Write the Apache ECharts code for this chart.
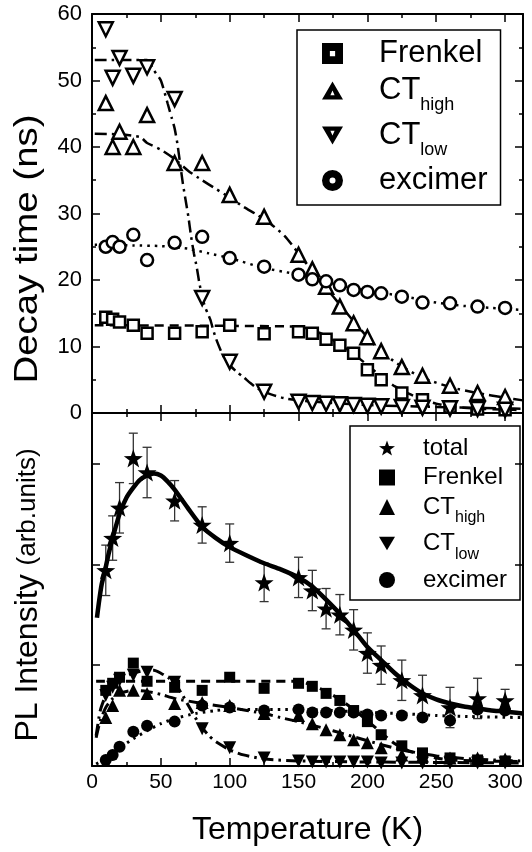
<!DOCTYPE html>
<html>
<head>
<meta charset="utf-8">
<script src="https://cdn.jsdelivr.net/npm/echarts@6/dist/echarts.min.js"></script>
<style>
html,body{margin:0;padding:0;background:#fff;}
#main{width:532px;height:852px;}
</style>
</head>
<body>
<div id="main"></div>
<script>
// temperatures of the measured points (K)
var tempK = [10,15,20,30,40,60,80,100,125,150,160,170,180,190,200,210,225,240,260,280,300];

// decay times (ns)
var tauFrenkel = [14.4,14.1,13.7,13.2,12.0,12.0,12.2,13.2,11.9,12.2,12.0,11.1,10.2,9.0,6.5,5.0,3.0,2.0,0.9,0.6,0.5];
var tauCThigh  = [46.6,40.0,42.3,40.0,44.8,37.6,37.6,32.8,29.5,23.8,21.6,19.0,16.0,13.5,11.4,9.3,6.9,5.6,4.1,3.0,2.4];
var tauCTlow   = [57.7,50.4,53.4,50.7,52.0,47.2,17.3,7.7,3.2,1.7,1.5,1.4,1.3,1.2,1.1,1.0,0.9,0.8,0.7,0.6,0.5];
var tauExcimer = [25.0,25.7,25.0,26.8,23.0,25.6,26.5,23.3,22.0,20.8,20.1,19.8,19.2,18.5,18.2,18.0,17.5,16.6,16.5,16.0,15.8];

// fitted curves, decay time panel [T, tau]
var fitTauFrenkel = [[2,13.2],[150,13.0],[160,12.5],[170,11.6],[180,10.3],[190,8.9],[200,7.2],[210,5.5],[220,4.0],[230,2.9],[240,2.0],[250,1.4],[260,1.0],[280,0.65],[300,0.5],[313,0.45]];
var fitTauCThigh = [[2,42],[20,41.9],[35,41.5],[40,40.6],[50,39.6],[60,38.2],[70,36.4],[80,35],[90,33.7],[100,32.4],[110,31],[120,29.8],[130,28.4],[140,26.6],[150,24],[160,21.3],[170,18.8],[180,16.3],[190,13.8],[200,11.4],[210,9.2],[225,7],[240,5.3],[260,3.9],[280,3.0],[300,2.3],[313,1.9]];
var fitTauCTlow = [[2,53.1],[40,53.1],[45,51.5],[50,50],[55,46.5],[58,44.3],[60,42.8],[62,40.5],[64,37.5],[66,34.5],[68,32],[70,29.5],[72,26.5],[74,24],[76,22],[78,19.5],[80,17.5],[82,16],[84,15],[86,14],[88,12.5],[90,11.2],[95,8.7],[100,7.2],[105,6.2],[110,5.4],[115,4.5],[120,3.7],[125,3.2],[130,2.8],[140,2.2],[150,1.9],[175,1.5],[200,1.2],[250,0.9],[300,0.7],[313,0.65]];
var fitTauExcimer = [[2,25.3],[30,25.2],[50,25.1],[70,24.7],[85,24],[100,23.3],[125,21.8],[145,21],[160,20.1],[180,19.2],[200,18.4],[225,17.6],[250,16.6],[270,16.1],[290,15.8],[313,15.5]];

// PL intensity (arb. units)
var plTotal    = [1.94,2.26,2.56,3.05,2.91,2.63,2.39,2.21,1.82,1.87,1.74,1.56,1.50,1.35,1.12,1.00,0.85,0.70,0.58,0.67,0.65];
var plTotalErr = [0.25,0.22,0.25,0.25,0.25,0.20,0.18,0.19,0.19,0.20,0.20,0.20,0.20,0.20,0.20,0.19,0.20,0.20,0.20,0.20,0.11];
var plFrenkel  = [0.75,0.82,0.88,1.02,0.84,0.78,0.75,0.88,0.77,0.82,0.79,0.72,0.65,0.55,0.44,0.31,0.20,0.13,0.08,0.06,0.05];
var plCThigh   = [0.48,0.60,0.75,0.75,0.72,0.62,0.63,0.60,0.52,0.50,0.42,0.36,0.31,0.26,0.23,0.18,0.11,0.10,0.08,0.08,0.07];
var plCTlow    = [0.70,0.78,0.85,0.90,0.93,0.83,0.37,0.18,0.08,0.05,0.04,0.04,0.04,0.04,0.04,0.03,0.03,0.03,0.03,0.03,0.03];
var plExcimer  = [0.06,0.11,0.19,0.34,0.40,0.44,0.60,0.58,0.55,0.56,0.53,0.53,0.53,0.53,0.51,0.50,0.50,0.48,0.45,0.56,0.55];

// fitted curves, PL panel [T, intensity]
var fitPlTotal = [[3.6,1.47],[5,1.62],[7,1.8],[9.5,1.94],[12,2.1],[15,2.26],[20,2.5],[25,2.66],[30,2.76],[35,2.84],[40,2.88],[45,2.9],[50,2.88],[55,2.82],[60,2.74],[70,2.55],[80,2.37],[90,2.26],[100,2.17],[112,2.09],[125,2.01],[137,1.95],[150,1.87],[160,1.78],[170,1.65],[180,1.51],[190,1.35],[200,1.18],[210,1.05],[220,0.92],[230,0.81],[240,0.72],[250,0.66],[260,0.62],[270,0.59],[280,0.57],[290,0.55],[300,0.54],[313,0.52]];
var fitPlFrenkel = [[3,0.84],[150,0.84],[160,0.8],[170,0.74],[180,0.66],[190,0.56],[200,0.45],[210,0.33],[220,0.22],[230,0.15],[240,0.11],[250,0.08],[260,0.06],[280,0.05],[313,0.045]];
var fitPlCThigh = [[3,0.28],[6,0.45],[10,0.58],[15,0.67],[20,0.72],[30,0.75],[40,0.74],[50,0.71],[60,0.67],[80,0.62],[100,0.58],[125,0.52],[140,0.47],[150,0.44],[175,0.35],[200,0.25],[225,0.16],[250,0.1],[275,0.07],[300,0.055],[313,0.05]];
var fitPlCTlow = [[3,0.3],[6,0.55],[10,0.7],[15,0.8],[20,0.86],[30,0.92],[40,0.95],[45,0.95],[50,0.92],[55,0.88],[60,0.82],[65,0.72],[70,0.6],[75,0.48],[80,0.38],[85,0.3],[90,0.24],[100,0.16],[110,0.11],[125,0.07],[150,0.05],[200,0.04],[313,0.03]];
var fitPlExcimer = [[3,0.02],[7,0.05],[10,0.08],[15,0.13],[20,0.18],[30,0.27],[40,0.35],[50,0.42],[60,0.47],[75,0.52],[90,0.55],[100,0.56],[150,0.56],[175,0.55],[200,0.53],[225,0.52],[250,0.5],[275,0.49],[313,0.48]];

// axis ticks
var majorX = [0,50,100,150,200,250,300];
var minorX = [25,75,125,175,225,275];

var FONT = 'Liberation Sans, Arial, Helvetica, sans-serif';
var STAR = 'path://M0,-10L2.35,-3.24L9.51,-3.09L3.8,1.24L5.88,8.09L0,4L-5.88,8.09L-3.8,1.24L-9.51,-3.09L-2.35,-3.24Z';
var DOWN = 'path://M0,0L20,0L10,17Z';
// legend icons of the decay panel: bold outline with a small hole
var ICON_SQ = 'path://M0,0L16,0L16,16L0,16Z M6,6L6,10L10,10L10,6Z';
var ICON_UP = 'path://M10,0L20,17L0,17Z M10,8.5L8,13L12,13Z';
var ICON_DN = 'path://M0,0L20,0L10,17Z M8,4L10,8.5L12,4Z';
var ICON_CI = 'path://M7,0A7,7 0 1,1 6.99,0Z M7,5A2,2 0 1,0 7.01,5Z';

function pairs(xs, ys) {
	return xs.map(function (x, i) { return [x, ys[i]]; });
}

function xAxisCfg(gridIndex, position, ticks, len, showLine, labels) {
	return {
		type: 'value', gridIndex: gridIndex, position: position, min: 0, max: 313,
		axisLine: { show: showLine, onZero: false, lineStyle: { color: '#000', width: 2 } },
		axisTick: { show: true, inside: true, length: len, customValues: ticks, lineStyle: { color: '#000', width: 1.5 } },
		axisLabel: labels ? { show: true, customValues: majorX, color: '#000', fontFamily: FONT, fontSize: 21, margin: 6 } : { show: false },
		splitLine: { show: false },
		name: labels ? 'Temperature (K)' : '',
		nameLocation: 'middle',
		nameGap: 48,
		nameTextStyle: { color: '#000', fontFamily: FONT, fontSize: 32 }
	};
}

function yAxisCfg(gridIndex, position, max, interval, labels, minor) {
	return {
		type: 'value', gridIndex: gridIndex, position: position, min: 0, max: max, interval: interval,
		axisLine: { show: true, onZero: false, lineStyle: { color: '#000', width: 2 } },
		axisTick: { show: true, inside: true, length: 8, lineStyle: { color: '#000', width: 1.5 } },
		minorTick: { show: minor, splitNumber: 2, length: 4, lineStyle: { color: '#000', width: 1.5 } },
		axisLabel: labels ? { show: true, color: '#000', fontFamily: FONT, fontSize: 22, margin: 10 } : { show: false },
		splitLine: { show: false }
	};
}

function openScatter(name, symbol, size, values, rotate) {
	return {
		name: name, type: 'scatter', xAxisIndex: 0, yAxisIndex: 0,
		symbol: symbol, symbolSize: size, symbolRotate: rotate || 0,
		itemStyle: { color: '#fff', borderColor: '#000', borderWidth: 2.5, opacity: 1 },
		data: pairs(tempK, values), z: 5
	};
}

function filledScatter(name, symbol, size, values, rotate) {
	return {
		name: name, type: 'scatter', xAxisIndex: 1, yAxisIndex: 1,
		symbol: symbol, symbolSize: size, symbolRotate: rotate || 0, symbolKeepAspect: true,
		itemStyle: { color: '#000', opacity: 1 },
		data: pairs(tempK, values), z: 5
	};
}

function fitLine(name, axis, data, type, width) {
	return {
		name: name, type: 'line', xAxisIndex: axis, yAxisIndex: axis,
		showSymbol: false, smooth: 0.2, silent: true,
		lineStyle: { color: '#000', width: width, type: type, cap: 'butt' },
		data: data, z: 3
	};
}

var DASH = [9, 6];
var DASHDOT = [12, 5, 2.5, 5];
var DOT = [2.5, 5];

function renderErr(params, api) {
	var x = api.value(0);
	var lo = api.coord([x, api.value(1)]);
	var hi = api.coord([x, api.value(2)]);
	var c = 4.5;
	var st = { stroke: '#333', lineWidth: 1.3 };
	return {
		type: 'group',
		children: [
			{ type: 'line', shape: { x1: lo[0], y1: lo[1], x2: hi[0], y2: hi[1] }, style: st },
			{ type: 'line', shape: { x1: lo[0] - c, y1: lo[1], x2: lo[0] + c, y2: lo[1] }, style: st },
			{ type: 'line', shape: { x1: hi[0] - c, y1: hi[1], x2: hi[0] + c, y2: hi[1] }, style: st }
		]
	};
}

var legendText = {
	'Frenkel': '{g| }{n|Frenkel}',
	'CThigh': '{g| }{n|CT}{s|high}',
	'CTlow': '{g| }{n|CT}{s|low}',
	'excimer': '{g| }{n|excimer}',
	'total': '{g| }{n|total}',
	'Frenkel PL': '{g| }{n|Frenkel}',
	'CThigh PL': '{g| }{n|CT}{s|high}',
	'CTlow PL': '{g| }{n|CT}{s|low}',
	'excimer PL': '{g| }{n|excimer}'
};

var solidIcon = { color: '#000', borderWidth: 0 };

var myChart = echarts.init(document.getElementById('main'), null, { renderer: 'canvas' });

var option = {
	animation: false,
	backgroundColor: '#fff',
	grid: [
		{ left: 92, top: 14, width: 431, height: 399, outerBoundsMode: 'none' },
		{ left: 92, top: 413, width: 431, height: 353, outerBoundsMode: 'none' }
	],
	xAxis: [
		xAxisCfg(0, 'bottom', majorX, 8, true, false),
		xAxisCfg(1, 'bottom', majorX, 8, true, true),
		xAxisCfg(0, 'top', majorX, 8, true, false),
		xAxisCfg(1, 'top', majorX, 8, true, false),
		xAxisCfg(0, 'bottom', minorX, 4, false, false),
		xAxisCfg(0, 'top', minorX, 4, false, false),
		xAxisCfg(1, 'bottom', minorX, 4, false, false),
		xAxisCfg(1, 'top', minorX, 4, false, false)
	],
	yAxis: [
		yAxisCfg(0, 'left', 60, 10, true, true),
		yAxisCfg(1, 'left', 3.5, 1, false, false),
		yAxisCfg(0, 'right', 60, 10, false, true),
		yAxisCfg(1, 'right', 3.5, 1, false, false)
	],
	legend: [{
		data: [
			{ name: 'Frenkel', icon: ICON_SQ, itemStyle: solidIcon },
			{ name: 'CThigh', icon: ICON_UP, itemStyle: solidIcon },
			{ name: 'CTlow', icon: ICON_DN, itemStyle: solidIcon },
			{ name: 'excimer', icon: ICON_CI, itemStyle: solidIcon }
		],
		orient: 'vertical', left: 297, top: 30,
		padding: [8, 13, 9, 25], itemGap: 6, itemWidth: 21, itemHeight: 21,
		borderColor: '#000', borderWidth: 1.5, selectedMode: false,
		itemStyle: solidIcon,
		formatter: function (name) { return legendText[name]; },
		textStyle: {
			color: '#000', fontFamily: FONT, fontSize: 31,
			rich: {
				g: { width: 31 },
				n: { fontSize: 31, lineHeight: 47, fontFamily: FONT, color: '#000' },
				s: { fontSize: 18, lineHeight: 18, verticalAlign: 'bottom', fontFamily: FONT, color: '#000' }
			}
		}
	}, {
		data: [
			{ name: 'total' },
			{ name: 'Frenkel PL' },
			{ name: 'CThigh PL' },
			{ name: 'CTlow PL', icon: DOWN },
			{ name: 'excimer PL' }
		],
		orient: 'vertical', left: 350, top: 426,
		padding: [10, 13, 8, 29], itemGap: 5.5, itemWidth: 16, itemHeight: 16,
		borderColor: '#000', borderWidth: 1.5, selectedMode: false,
		itemStyle: solidIcon,
		formatter: function (name) { return legendText[name]; },
		textStyle: {
			color: '#000', fontFamily: FONT, fontSize: 24,
			rich: {
				g: { width: 23 },
				n: { fontSize: 24, lineHeight: 38, fontFamily: FONT, color: '#000' },
				s: { fontSize: 16, lineHeight: 16, verticalAlign: 'bottom', fontFamily: FONT, color: '#000' }
			}
		}
	}],
	graphic: [{
		type: 'text', x: 28, y: 249, rotation: Math.PI / 2, scaleX: 1.13,
		style: { text: 'Decay time (ns)', fontFamily: FONT, fontSize: 34, fill: '#000', align: 'center', verticalAlign: 'middle' }
	}, {
		type: 'text', x: 28, y: 595, rotation: Math.PI / 2,
		style: {
			text: '{a|PL Intensity }{b|(arb.units)}', fill: '#000', align: 'center', verticalAlign: 'middle',
			rich: {
				a: { fontFamily: FONT, fontSize: 32, fill: '#000' },
				b: { fontFamily: FONT, fontSize: 26, fill: '#000' }
			}
		}
	}],
	series: [
		fitLine('fitFrenkel', 0, fitTauFrenkel, DASH, 2.5),
		fitLine('fitCThigh', 0, fitTauCThigh, DASHDOT, 2.5),
		fitLine('fitCTlow', 0, fitTauCTlow, DASHDOT, 2.5),
		fitLine('fitExcimer', 0, fitTauExcimer, DOT, 2.5),
		openScatter('Frenkel', 'rect', 11, tauFrenkel),
		openScatter('CThigh', 'triangle', 14, tauCThigh),
		openScatter('CTlow', 'triangle', 14, tauCTlow, 180),
		openScatter('excimer', 'circle', 12, tauExcimer),

		{
			name: 'err', type: 'custom', xAxisIndex: 1, yAxisIndex: 1,
			renderItem: renderErr, silent: true, z: 2,
			encode: { x: 0, y: [1, 2] },
			data: tempK.map(function (t, i) { return [t, plTotal[i] - plTotalErr[i], plTotal[i] + plTotalErr[i]]; })
		},
		fitLine('fitTotal', 1, fitPlTotal, 'solid', 4.5),
		fitLine('fitFrenkelPL', 1, fitPlFrenkel, DASH, 3),
		fitLine('fitCThighPL', 1, fitPlCThigh, DASHDOT, 3),
		fitLine('fitCTlowPL', 1, fitPlCTlow, DASHDOT, 3),
		fitLine('fitExcimerPL', 1, fitPlExcimer, DOT, 3),
		filledScatter('total', STAR, 19, plTotal),
		filledScatter('Frenkel PL', 'rect', 11, plFrenkel),
		filledScatter('CThigh PL', 'triangle', 13, plCThigh),
		filledScatter('CTlow PL', 'triangle', 13, plCTlow, 180),
		filledScatter('excimer PL', 'circle', 12, plExcimer)
	]
};

myChart.setOption(option);
</script>
</body>
</html>
